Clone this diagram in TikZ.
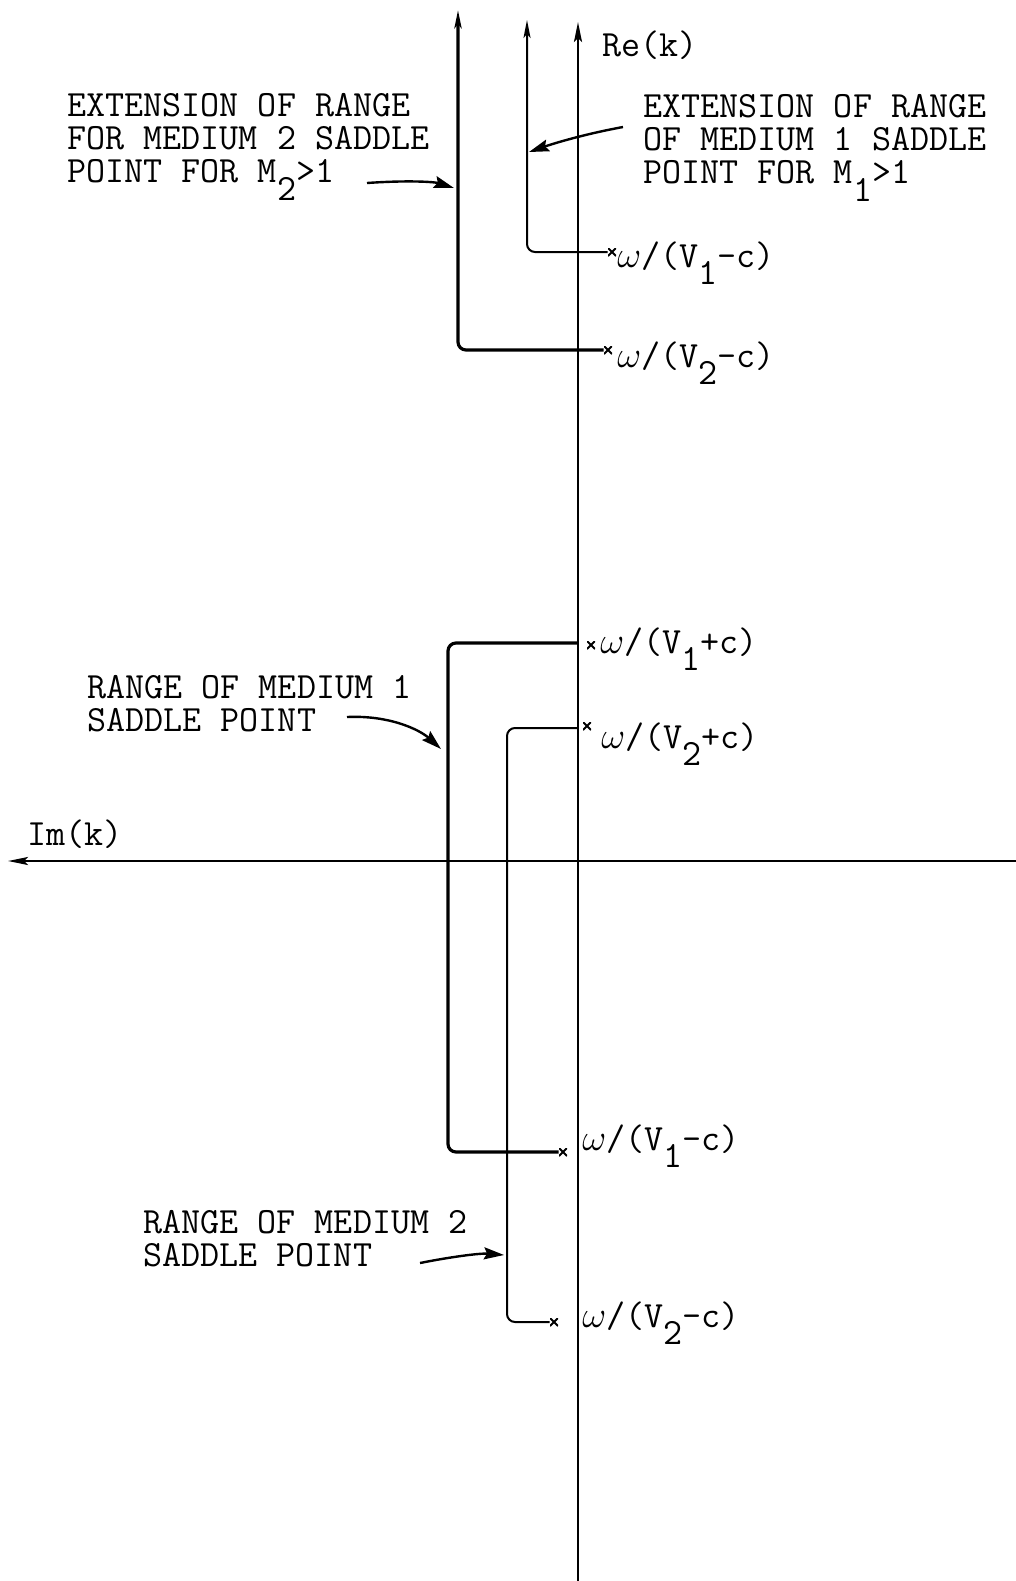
\RequirePackage{fix-cm}
\documentclass[tikz,border=0pt]{standalone}
\usepackage{fontspec}
\usepackage{tikz}
\usetikzlibrary{arrows.meta,calc}

\newcommand\dn[1]{\raisebox{-1.1ex}{#1}}

\begin{document}
\begin{tikzpicture}[x=0.5pt, y=-0.5pt, >=Stealth,
  every node/.style={font=\ttfamily\fontsize{18.5}{16.6}\selectfont, inner sep=0pt},
  axis/.style={line width=1.2pt, -{Stealth[length=10pt, width=4pt, inset=2pt]}},
  heavy/.style={line width=1.6pt, rounded corners=4pt},
  light/.style={line width=1pt, rounded corners=4pt},
  pointer/.style={line width=1.2pt, -{Stealth[length=10pt, width=6pt, inset=1.5pt]}},
  note/.style={align=left, anchor=north west},
  val/.style={anchor=base west},
  xmk/.style={minimum size=4pt, path picture={
    \draw[line width=0.9pt] (path picture bounding box.south west) -- (path picture bounding box.north east)
      (path picture bounding box.north west) -- (path picture bounding box.south east);}}]
  \useasboundingbox (0,0) rectangle (1016,1581);

  \coordinate (reb) at (578,1581);
  \coordinate (ret) at (578,22);
  \coordinate (imr) at (1016,861);
  \coordinate (iml) at (8,861);
  \draw[axis] (reb) -- (ret);
  \draw[axis] (imr) -- (iml);
  \node[anchor=west] (rek) at (602,45) {Re(k)};
  \node[anchor=west] (imk) at (27,834) {Im(k)};

  % saddle point ends
  \node[xmk] (xa) at (612,252) {};
  \node[xmk] (xb) at (608,350) {};
  \node[xmk] (xc) at (591,645) {};
  \node[xmk] (xd) at (587,726) {};
  \node[xmk] (xe) at (563,1152) {};
  \node[xmk] (xf) at (554,1322) {};

  \node[val] (va) at (617,267) {$\omega$/(V\dn{1}-c)};
  \node[val] (vb) at (617,367) {$\omega$/(V\dn{2}-c)};
  \node[val] (vc) at (600,653) {$\omega$/(V\dn{1}+c)};
  \node[val] (vd) at (601,748) {$\omega$/(V\dn{2}+c)};
  \node[val] (ve) at (582,1150) {$\omega$/(V\dn{1}-c)};
  \node[val] (vf) at (582,1327) {$\omega$/(V\dn{2}-c)};

  % ranges
  \coordinate (ta) at (527,20);
  \coordinate (tb) at (458,10);
  \draw[light, -{Stealth[length=9pt, width=3.5pt, inset=2pt]}] (xa.west) -| (ta);
  \draw[heavy, -{Stealth[length=9pt, width=3.5pt, inset=2pt]}] (xb.west) -| (tb);
  \coordinate (ka) at (578,643);
  \coordinate (ma) at (448,900);
  \coordinate (kb) at (578,728);
  \coordinate (mb) at (507,1000);
  \draw[heavy] (ka) -| (ma) |- (xe.west);
  \draw[light] (kb) -| (mb) |- (xf.west);

  \node[note] (na) at (67,93) {EXTENSION OF RANGE\\FOR MEDIUM 2 SADDLE\\POINT FOR M\dn{2}>1};
  \node[note] (nb) at (643,94) {EXTENSION OF RANGE\\OF MEDIUM 1 SADDLE\\POINT FOR M\dn{1}>1};
  \node[note] (nc) at (87,675) {RANGE OF MEDIUM 1\\SADDLE POINT};
  \node[note] (nd) at (143,1210) {RANGE OF MEDIUM 2\\SADDLE POINT};

  \coordinate (pa0) at (367,183);
  \coordinate (pa1) at (454,188);
  \coordinate (pb0) at (623,127);
  \coordinate (pb1) at (529,152);
  \coordinate (pc0) at (347,717);
  \coordinate (pc1) at (441,749);
  \coordinate (pd0) at (420,1263);
  \coordinate (pd1) at (504,1255);
  \draw[pointer] (pa0) .. controls (410,180) and (435,182) .. (pa1);
  \draw[pointer] (pb0) .. controls (585,134) and (555,143) .. (pb1);
  \draw[pointer] (pc0) .. controls (390,715) and (420,730) .. (pc1);
  \draw[pointer] (pd0) .. controls (450,1257) and (480,1253) .. (pd1);
\end{tikzpicture}
\end{document}
